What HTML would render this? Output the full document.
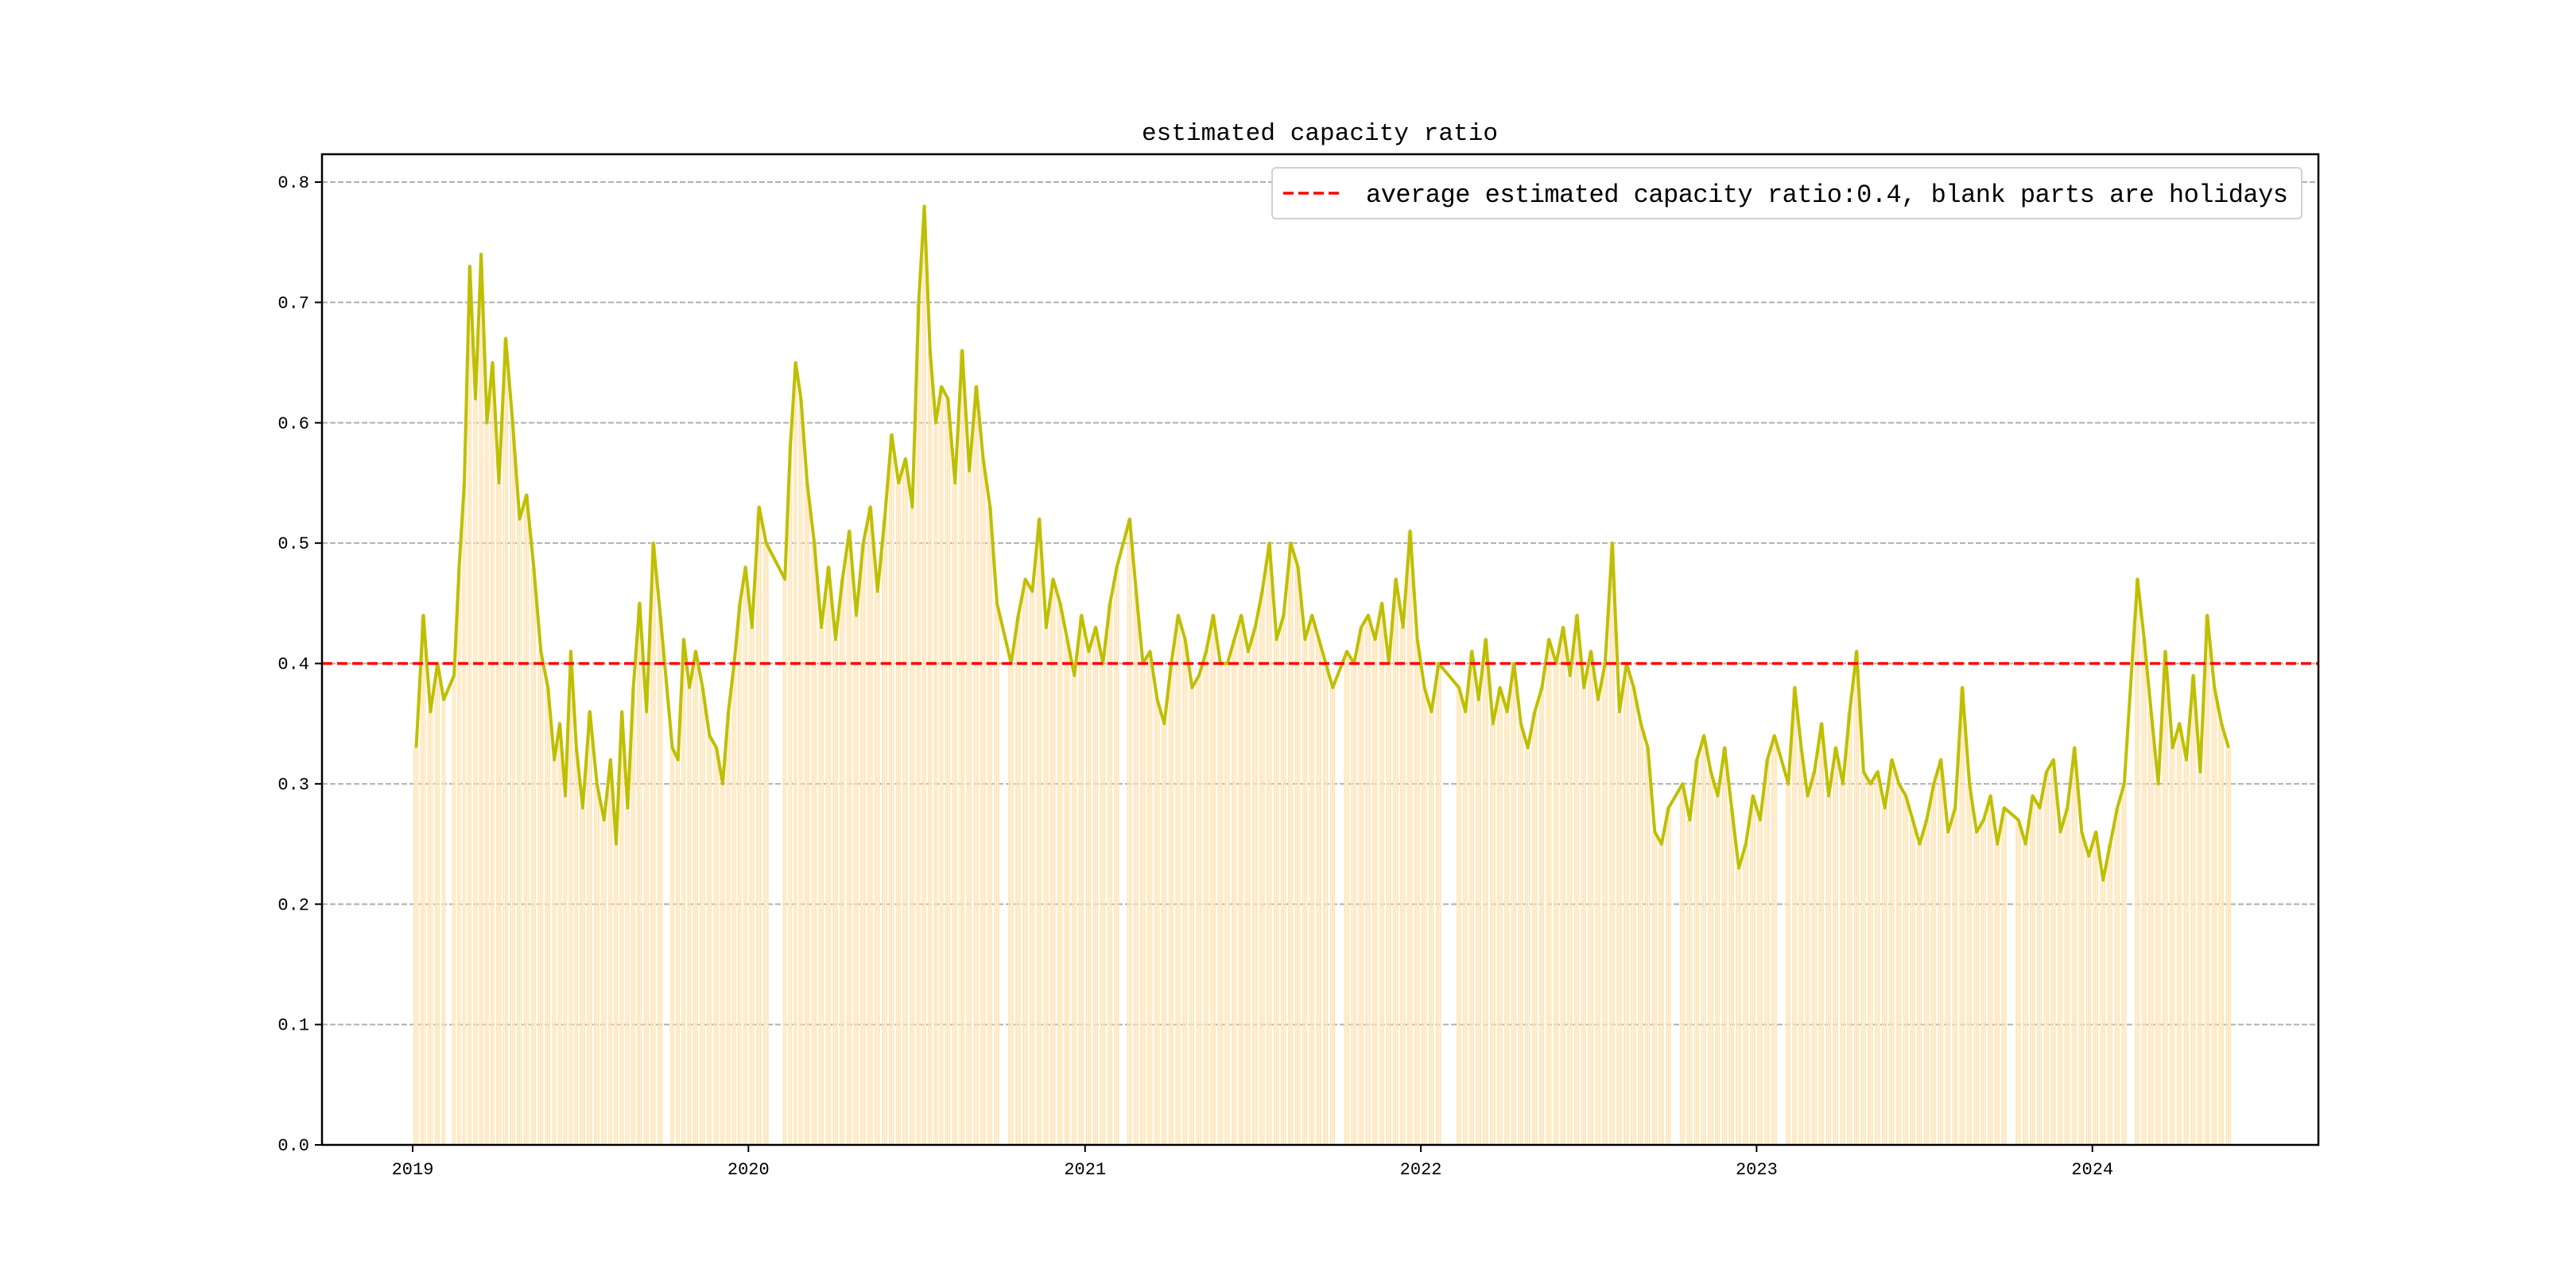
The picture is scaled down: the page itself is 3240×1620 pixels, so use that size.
<!DOCTYPE html>
<html><head><meta charset="utf-8">
<style>
html,body{margin:0;padding:0;background:#fff;}
svg{display:block;}
text{font-family:"WenQuanYi Zen Hei Mono","Liberation Mono",monospace;fill:#000;}
</style></head>
<body>
<svg id="chart" width="3240" height="1620" viewBox="0 0 3240 1620" xmlns="http://www.w3.org/2000/svg">
<rect x="0" y="0" width="3240" height="1620" fill="#fff"/>
<g id="grid"></g>
<g id="bars"></g>
<g id="line"></g>
<g id="avg"></g>
<g id="axes"></g>
<text x="1660" y="176" font-size="31" text-anchor="middle" textLength="448">estimated capacity ratio</text>
<g>
<rect x="1600" y="211" width="1295" height="64" rx="5" fill="#fff" stroke="#d0d0d0" stroke-width="2"/>
<line x1="1614" y1="243" x2="1688" y2="243" stroke="#ff0000" stroke-width="3.5" stroke-dasharray="13,6"/>
<text x="1718" y="254" font-size="32" textLength="1160">average estimated capacity ratio:0.4, blank parts are holidays</text>
</g>
</svg>
<script>
const months = ["2019-01","2019-02","2019-03","2019-04","2019-05","2019-06","2019-07","2019-08","2019-09","2019-10","2019-11","2019-12",
"2020-01","2020-02","2020-03","2020-04","2020-05","2020-06","2020-07","2020-08","2020-09","2020-10","2020-11","2020-12",
"2021-01","2021-02","2021-03","2021-04","2021-05","2021-06","2021-07","2021-08","2021-09","2021-10","2021-11","2021-12",
"2022-01","2022-02","2022-03","2022-04","2022-05","2022-06","2022-07","2022-08","2022-09","2022-10","2022-11","2022-12",
"2023-01","2023-02","2023-03","2023-04","2023-05","2023-06","2023-07","2023-08","2023-09","2023-10","2023-11","2023-12",
"2024-01","2024-02","2024-03","2024-04","2024-05"];
const values = [
[0.33,0.44,0.36,0.40],[0.37,null,0.39,0.48,0.55],[0.73,0.62,0.74,0.60,0.65],[0.55,0.67,0.60,0.52],[0.54,0.48,0.41,0.38],
[0.32,0.35,0.29,0.41,0.33],[0.28,0.36,0.30,0.27],[0.32,0.25,0.36,0.28,0.38],[0.45,0.36,0.50,0.44],[null,0.33,0.32,0.42,0.38],
[0.41,0.38,0.34,0.33],[0.30,0.36,0.40,0.45,0.48],
[0.43,0.53,0.50,null],[null,0.47,0.58,0.65,0.62],[0.55,0.50,0.43,0.48],[0.42,0.47,0.51,0.44],[0.50,0.53,0.46,0.52],
[0.59,0.55,0.57,0.53],[0.70,0.78,0.66,0.60,0.63],[0.62,0.55,0.66,0.56],[0.63,0.57,0.53,0.45],[null,0.40,0.44,0.47],
[0.46,0.52,0.43,0.47],[0.45,0.42,0.39,0.44],
[0.41,0.43,0.40,0.45],[0.48,null,0.52,0.46],[0.40,0.41,0.37,0.35],[0.40,0.44,0.42,0.38],[0.39,0.41,0.44,0.40],
[0.40,0.42,0.44,0.41],[0.43,0.46,0.50,0.42],[0.44,0.50,0.48,0.42],[0.44,0.42,0.40,0.38],[null,0.41,0.40,0.43],
[0.44,0.42,0.45,0.40],[0.47,0.43,0.51,0.42],
[0.38,0.36,0.40,null],[null,0.38,0.36,0.41],[0.37,0.42,0.35,0.38],[0.36,0.40,0.35,0.33],[0.36,0.38,0.42,0.40],
[0.43,0.39,0.44,0.38],[0.41,0.37,0.40,0.50],[0.36,0.40,0.38,0.35],[0.33,0.26,0.25,0.28],[null,0.30,0.27,0.32],
[0.34,0.31,0.29,0.33],[0.28,0.23,0.25,0.29],
[0.27,0.32,0.34,null],[0.30,0.38,0.33,0.29],[0.31,0.35,0.29,0.33],[0.30,0.36,0.41,0.31],[0.30,0.31,0.28,0.32],
[0.30,0.29,0.27,0.25],[0.27,0.30,0.32,0.26],[0.28,0.38,0.30,0.26],[0.27,0.29,0.25,0.28],[null,0.27,0.25,0.29],
[0.28,0.31,0.32,0.26],[0.28,0.33,0.26,0.24],
[0.26,0.22,0.25,0.28],[0.30,null,0.47,0.42],[0.36,0.30,0.41,0.33],[0.35,0.32,0.39,0.31],[0.44,0.38,0.35,0.33]
];
const yTicks = [0.0,0.1,0.2,0.3,0.4,0.5,0.6,0.7,0.8];
const yTickLabels = ["0.0","0.1","0.2","0.3","0.4","0.5","0.6","0.7","0.8"];
const xTickYears = [2019,2020,2021,2022,2023,2024];
const avgValue = 0.4;

const NS = "http://www.w3.org/2000/svg";
const L = 405, R = 2916, T = 194, B = 1440;
const X0 = 519, PX_PER_DAY = 422.6 / 365.25;
const base = Date.UTC(2019,0,1);
function xDate(ms){ return X0 + (ms - base) / 86400000 * PX_PER_DAY; }
function yScale(v){ return B - v * 1513.75; }
function mk(tag, attrs, parent){
  const e = document.createElementNS(NS, tag);
  for (const k in attrs) e.setAttribute(k, attrs[k]);
  parent.appendChild(e); return e;
}
const gGrid = document.getElementById('grid');
const gBars = document.getElementById('bars');
const gLine = document.getElementById('line');
const gAvg = document.getElementById('avg');
const gAxes = document.getElementById('axes');

yTicks.forEach((t,i)=>{
  const y = yScale(t);
  if (t > 0) {
    const g = mk('line',{x1:L,x2:R,y1:y,y2:y,stroke:'#b0b0b0','stroke-width':2,'stroke-dasharray':'7,3'},gGrid);
    
    
  }
  const tk = mk('line',{x1:L-9,x2:L,y1:y,y2:y,stroke:'#000','stroke-width':2},gAxes);
  
  
  const lb = mk('text',{x:L-16,y:y+7,'font-size':22,'text-anchor':'end'},gAxes);
  lb.textContent = yTickLabels[i];
  
  
});
xTickYears.forEach(yr=>{
  const x = xDate(Date.UTC(yr,0,1));
  const tk = mk('line',{x1:x,x2:x,y1:B,y2:B+9,stroke:'#000','stroke-width':2},gAxes);
  
  
  const lb = mk('text',{x:x,y:B+37,'font-size':22,'text-anchor':'middle'},gAxes);
  lb.textContent = String(yr);
  
  
});

const pts = [];
months.forEach((m,mi)=>{
  const yr = +m.slice(0,4), mo = +m.slice(5,7)-1;
  const s = Date.UTC(yr,mo,1), e = Date.UTC(yr,mo+1,1);
  const arr = values[mi], n = arr.length;
  const step = (e - s) / n;
  arr.forEach((v,i)=>{
    if (v === null) return;
    const c = s + (i + 0.5) * step;
    const x0 = xDate(c - step*0.4), x1 = xDate(c + step*0.4);
    const xc = xDate(c);
    const w = (x1 - x0);
    for (let k=0;k<3;k++){
      const bx = x0 + k*w/3;
      const b = mk('rect',{x:bx,y:yScale(v),width:w/3*0.72,height:B-yScale(v),fill:'#ffe4b5'},gBars);
      
      
    }
    pts.push([xc, yScale(v)]);
  });
});
const path = mk('polyline',{points:pts.map(p=>p[0].toFixed(1)+','+p[1].toFixed(1)).join(' '),fill:'none',stroke:'#bfbf00','stroke-width':4,'stroke-linejoin':'round'},gLine);



const av = mk('line',{x1:L,x2:R,y1:yScale(avgValue),y2:yScale(avgValue),stroke:'#ff0000','stroke-width':3.5,'stroke-dasharray':'13,6'},gAvg);



const frame = mk('rect',{x:L,y:T,width:R-L,height:B-T,fill:'none',stroke:'#000','stroke-width':2.5},gAxes);


</script>
</body></html>
